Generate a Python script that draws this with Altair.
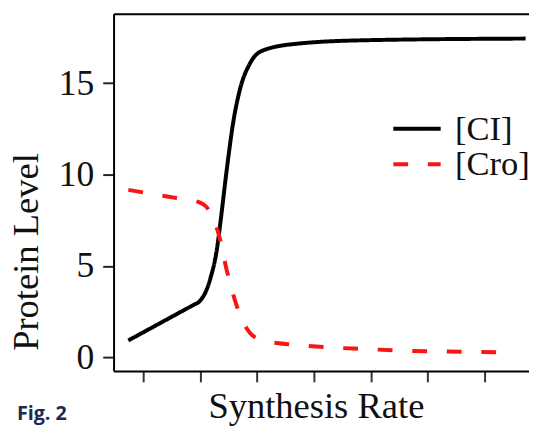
import altair as alt
import pandas as pd

ci_x = [0.74, 1.20, 1.60, 1.90, 1.98, 2.18, 2.30, 2.36, 2.47, 2.59, 2.70, 2.88, 3.11, 3.74, 4.90, 7.72]
ci_y = [0.92, 1.70, 2.38, 2.89, 3.03, 4.30, 6.00, 7.44, 10.3, 13.0, 14.65, 16.1, 16.8, 17.17, 17.35, 17.44]

cro_x = [0.74, 1.61, 1.95, 2.13, 2.21, 2.33, 2.47, 2.65, 2.88, 3.11, 3.63, 4.26, 4.90, 5.54, 6.16, 7.44]
cro_y = [9.16, 8.70, 8.52, 8.16, 7.70, 6.70, 4.74, 2.76, 1.32, 0.92, 0.69, 0.54, 0.45, 0.36, 0.32, 0.27]

series = ["[CI]", "[Cro]"]
colors = ["#000000", "#fa1414"]
y_ticks = [0, 5, 10, 15]
x_ticks = [1, 2, 3, 4, 5, 6, 7]

df = pd.concat([
    pd.DataFrame({"x": ci_x, "y": ci_y, "s": series[0], "o": range(len(ci_x))}),
    pd.DataFrame({"x": cro_x, "y": cro_y, "s": series[1], "o": range(len(cro_x))}),
])

FONT = "'Liberation Serif', 'Times New Roman', 'DejaVu Serif', serif"
xdom = [0.48, 7.78]
ydom = [-0.75, 18.8]

leg = dict(title=None, orient="none", legendX=290, legendY=99,
           symbolType="M-1.6,0H1.6", symbolSize=900, symbolStrokeWidth=4,
           labelFont=FONT, labelFontSize=35, labelColor="#111111", labelLimit=300,
           labelOffset=21, rowPadding=-6)

lines = alt.Chart(df).mark_line(interpolate="monotone", strokeWidth=4).encode(
    x=alt.X("x:Q", scale=alt.Scale(domain=xdom, nice=False, zero=False),
            axis=alt.Axis(orient="bottom", values=x_ticks, labels=False, ticks=True, tickSize=11,
                          tickWidth=2, tickColor="#333333", domainColor="#000000", domainWidth=2,
                          grid=False, title="Synthesis Rate", titleFont=FONT,
                          titleFontSize=37, titleFontWeight="normal", titleColor="#111111",
                          titleBaseline="alphabetic", titleX=205, titleY=47, titleAlign="center")),
    y=alt.Y("y:Q", scale=alt.Scale(domain=ydom, nice=False, zero=False),
            axis=alt.Axis(values=y_ticks, tickSize=11, tickWidth=2, tickColor="#222222",
                          domainColor="#000000", domainWidth=2, grid=False,
                          labelFont=FONT, labelFontSize=36, labelColor="#111111", labelPadding=9,
                          title="Protein Level", titleFont=FONT, titleFontSize=37,
                          titleFontWeight="normal", titleColor="#111111",
                          titleX=-69, titleY=241, titleAlign="center", titleBaseline="bottom")),
    color=alt.Color("s:N", scale=alt.Scale(domain=series, range=colors), legend=alt.Legend(**leg)),
    strokeDash=alt.StrokeDash("s:N", scale=alt.Scale(domain=series, range=[[1, 0], [15, 20]]),
                              legend=alt.Legend(**leg)),
    order="o:Q",
)

frame = alt.Chart(df).mark_rule(opacity=0).encode(
    x=alt.X("x:Q", scale=alt.Scale(domain=xdom, nice=False, zero=False),
            axis=alt.Axis(orient="top", labels=False, ticks=False, title=None, grid=False,
                          domainColor="#000000", domainWidth=2)),
)

chart = alt.layer(lines, frame).resolve_axis(x="independent").properties(
    width=421, height=362,
    autosize=alt.AutoSizeParams(type="none"),
    padding={"left": 107, "top": 3, "right": 0, "bottom": 54},
    title=alt.TitleParams("Fig. 2", orient="bottom", anchor="start", frame="group",
                          font="Open Sans", fontSize=20, fontWeight="bold", color="#1b2a52",
                          dx=-98, dy=-24, baseline="top"),
).configure_view(stroke=None).configure(background="white")

chart.save("out.html", embed_options={"renderer": "svg", "actions": False})
